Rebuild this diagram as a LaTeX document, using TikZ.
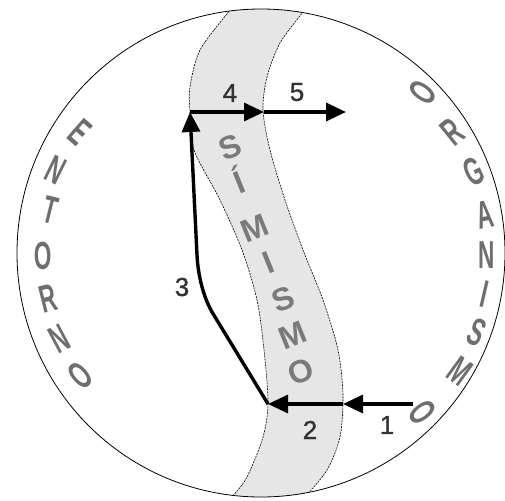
\documentclass[tikz,border=0pt]{standalone}
\usepackage{fontspec}
\setmainfont{Liberation Sans}
\newfontfamily\numfont[FakeBold=1.2]{Liberation Sans}
\usetikzlibrary{arrows.meta}
\definecolor{bandgray}{HTML}{E6E6E6}
\definecolor{lettergray}{HTML}{6E6E6E}
\definecolor{bandtext}{HTML}{7A7A7A}
\definecolor{numgray}{HTML}{333333}
\tikzset{
  arr/.style={line width=3.4pt, -{Triangle[length=20pt,width=18pt]}},
  ring/.style={text=lettergray, font=\fontsize{39}{39}\selectfont\bfseries, inner sep=0pt},
  bandletter/.style={text=bandtext, font=\fontsize{32}{32}\selectfont\bfseries, inner sep=0pt, rotate=22},
  numlabel/.style={text=numgray, font=\fontsize{26}{26}\selectfont\numfont, inner sep=0pt},
  bandedge/.style={line width=0.6pt, dash pattern=on 2pt off 1pt}
}
\newcommand{\nar}[1]{\scalebox{0.58}[1]{#1}}
\begin{document}
\begin{tikzpicture}[x=1pt,y=-1pt]
\useasboundingbox (0,0) rectangle (505,500);
\coordinate (C) at (261,253);
\begin{scope}
  \clip (C) circle[radius=244pt];
  \fill[bandgray] plot[smooth] coordinates {(238,0) (230,10) (200,50) (190,87) (190,112) (194,150) (220,200) (242,250) (257,300) (264,350) (268,403) (263,437) (247,477) (232,497) (225,505)}
    -- plot[smooth] coordinates {(298,505) (305,497) (327,470) (340,437) (343,395) (338,350) (323,300) (303,250) (285,200) (270,150) (263,110) (267,77) (280,43) (303,12) (312,0)} -- cycle;
  \draw[bandedge] plot[smooth] coordinates {(238,0) (230,10) (200,50) (190,87) (190,112) (194,150) (220,200) (242,250) (257,300) (264,350) (268,403) (263,437) (247,477) (232,497) (225,505)};
  \draw[bandedge] plot[smooth] coordinates {(298,505) (305,497) (327,470) (340,437) (343,395) (338,350) (323,300) (303,250) (285,200) (270,150) (263,110) (267,77) (280,43) (303,12) (312,0)};
\end{scope}
\draw[line width=0.8pt] (C) circle[radius=244pt];

% ENTORNO
\node[ring, rotate=-41] (e1) at (80,132) {\nar{E}};
\node[ring, rotate=-26] (e2) at (56,170) {\nar{N}};
\node[ring, rotate=-14] (e3) at (50,210) {\nar{T}};
\node[ring, rotate=1]   (e4) at (43,256) {\nar{O}};
\node[ring, rotate=14]  (e5) at (48,299) {\nar{R}};
\node[ring, rotate=28]  (e6) at (59,339) {\nar{N}};
\node[ring, rotate=41]  (e7) at (80,376) {\nar{O}};

% ORGANISMO
\node[ring, rotate=54]  (o1) at (423,92) {\nar{O}};
\node[ring, rotate=39]  (o2) at (452,132) {\nar{R}};
\node[ring, rotate=25]  (o3) at (474,172) {\nar{G}};
\node[ring, rotate=11]  (o4) at (485,215) {\nar{A}};
\node[ring, rotate=0]   (o5) at (487,255) {\nar{N}};
\node[ring, rotate=-13] (o6) at (485,294) {\nar{I}};
\node[ring, rotate=-24] (o7) at (477,332) {\nar{S}};
\node[ring, rotate=-36] (o8) at (460,371) {\nar{M}};
\node[ring, rotate=-53] (o9) at (423,412) {\nar{O}};

% SÍ MISMO
\node[bandletter] (s1) at (230,147) {S};
\node[bandletter] (s2) at (238,180) {Í};
\node[bandletter] (s3) at (255,228) {M};
\node[bandletter] (s4) at (268,263) {I};
\node[bandletter] (s5) at (283,299) {S};
\node[bandletter] (s6) at (293,335) {M};
\node[bandletter] (s7) at (301,372) {O};

% arrow points
\coordinate (a1) at (413,404);
\coordinate (a2) at (343,404);
\coordinate (a3) at (268,404);
\coordinate (b1) at (212,312);
\coordinate (b2) at (197,255);
\coordinate (a4) at (190,112);
\coordinate (a5) at (264,112);
\coordinate (a6) at (346,112);

\draw[arr] (a1) -- (a2);
\draw[arr] (a2) -- (a3);
\draw[arr, line join=round] (a3) -- (b1) .. controls (203,296) and (198,275) .. (b2) -- (a4);
\draw[arr] (a4) -- (a5);
\draw[arr] (a5) -- (a6);

% numbers
\node[numlabel] (n1) at (387,425) {1};
\node[numlabel] (n2) at (310,430) {2};
\node[numlabel] (n3) at (182,287) {3};
\node[numlabel] (n4) at (230,93) {4};
\node[numlabel] (n5) at (297,92) {5};
\end{tikzpicture}
\end{document}
